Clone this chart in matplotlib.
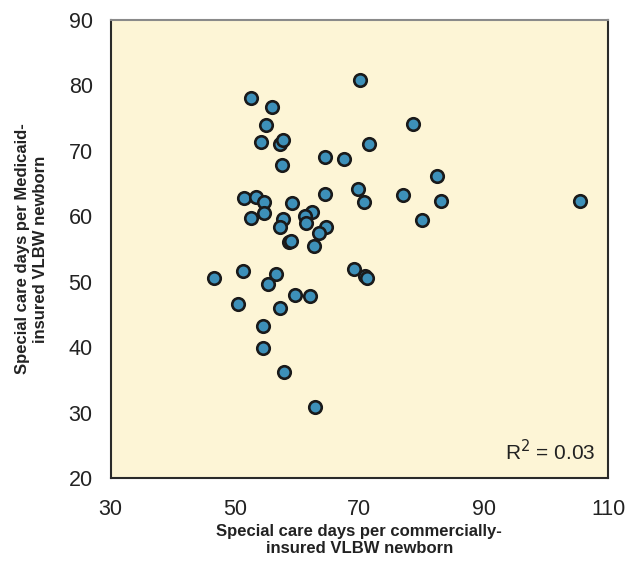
import matplotlib
matplotlib.use("Agg")
import matplotlib.pyplot as plt

plt.rcParams['font.family'] = ['Liberation Sans', 'DejaVu Sans']

# special care days per commercially-insured VLBW newborn
commercial = [70.1, 52.5, 56.0, 54.9, 78.6, 54.1, 57.3, 57.7, 71.5, 64.4,
              67.5, 57.6, 82.5, 69.8, 64.4, 77.0, 51.5, 53.4, 54.7, 59.2,
              70.7, 83.1, 105.5, 62.3, 61.3, 54.6, 52.5, 57.7, 80.1, 61.4,
              57.2, 64.7, 63.5, 58.6, 59.0, 62.7, 69.2, 51.3, 56.6, 70.9,
              71.2, 46.6, 55.3, 59.7, 62.1, 50.5, 57.2, 54.5, 54.5, 57.8,
              62.9]
# special care days per Medicaid-insured VLBW newborn
medicaid = [80.9, 78.1, 76.7, 73.9, 74.1, 71.4, 71.0, 71.6, 71.0, 69.1,
            68.7, 67.9, 66.1, 64.1, 63.4, 63.2, 62.8, 63.0, 62.2, 62.1,
            62.2, 62.3, 62.4, 60.7, 60.1, 60.5, 59.7, 59.6, 59.5, 58.9,
            58.3, 58.3, 57.4, 56.1, 56.2, 55.5, 51.9, 51.7, 51.2, 50.9,
            50.6, 50.6, 49.6, 47.9, 47.8, 46.6, 46.0, 43.3, 39.8, 36.2,
            30.9]

xticks = [30, 50, 70, 90, 110]
yticks = [20, 30, 40, 50, 60, 70, 80, 90]

fig = plt.figure(figsize=(6.28, 5.63), dpi=100)
ax = fig.add_axes([0.1763, 0.151, 0.7919, 0.8135])
ax.set_facecolor('#fdf5d6')

ax.plot(commercial, medicaid, 'o', markersize=9, markerfacecolor='#3d90b9',
        markeredgecolor='#1a1a1a', markeredgewidth=1.9, linestyle='none')

ax.set_xlim(30, 110)
ax.set_ylim(20, 90)
ax.set_xticks(xticks)
ax.set_yticks(yticks)
ax.tick_params(length=0, labelsize=15.5, colors='#222222')
ax.tick_params(axis='x', pad=15)
ax.tick_params(axis='y', pad=13)
for s in ax.spines.values():
    s.set_color('#2a2a2a')
    s.set_linewidth(1.5)
ax.spines['top'].set_color('#8a8a8a')

ax.set_xlabel('Special care days per commercially-\ninsured VLBW newborn',
              fontsize=12, fontweight='bold', color='#222222', labelpad=3,
              linespacing=1.2)
ax.set_ylabel('Special care days per Medicaid-\ninsured VLBW newborn',
              fontsize=12, fontweight='bold', color='#222222', labelpad=15,
              linespacing=1.2)

ax.text(0.975, 0.03, 'R$^2$ = 0.03', transform=ax.transAxes,
        ha='right', va='bottom', fontsize=15, color='#222222')

fig.savefig('out.png', dpi=100)
